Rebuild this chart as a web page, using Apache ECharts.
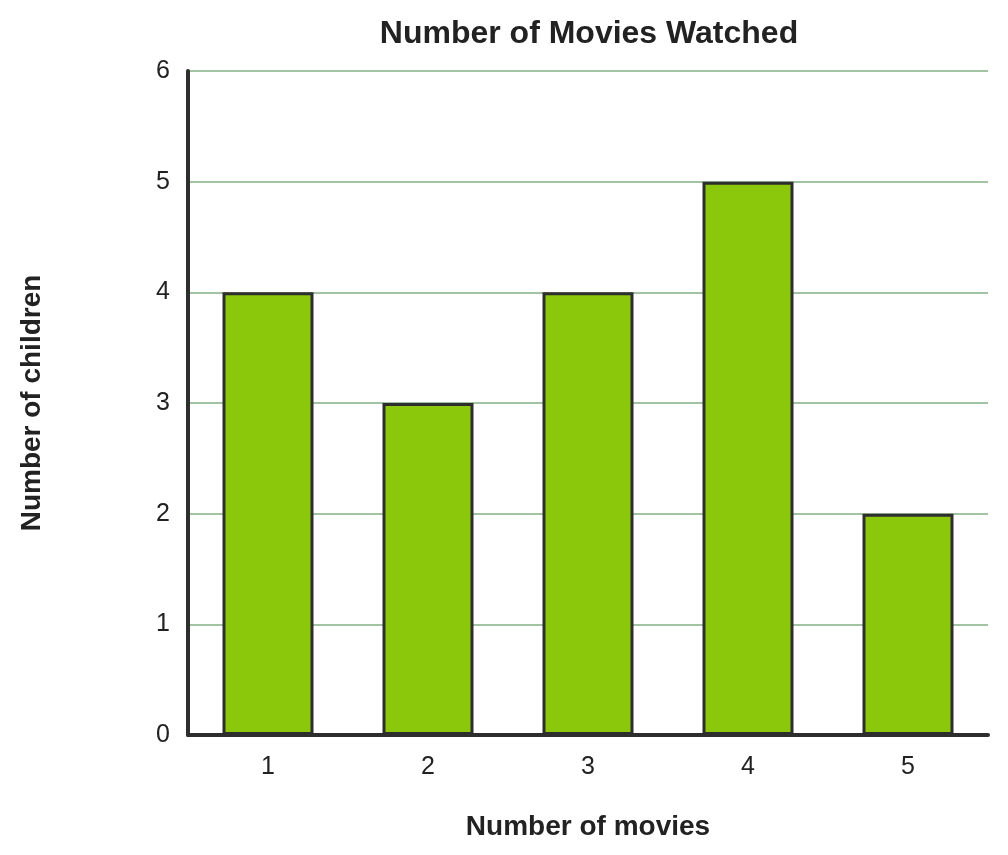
<!DOCTYPE html>
<html>
<head>
<meta charset="utf-8">
<script src="https://cdn.jsdelivr.net/npm/echarts@6/dist/echarts.min.js"></script>
<style>html,body{margin:0;padding:0;background:#fff;}#c{width:1008px;height:855px;}</style>
</head>
<body>
<div id="c"></div>
<script>
const categories = ['1', '2', '3', '4', '5'];
const children = [4, 3, 4, 5, 2];
const yTicks = [0, 1, 2, 3, 4, 5, 6];

const FONT = "'Liberation Sans', Arial, sans-serif";
const chart = echarts.init(document.getElementById('c'));
chart.setOption({
  animation: false,
  title: {
    text: 'Number of Movies Watched',
    left: 584, top: 13, textAlign: 'center',
    textStyle: {fontFamily: FONT, fontSize: 32, fontWeight: 'bold', color: '#222'}
  },
  grid: {left: 188, right: 20, top: 71, bottom: 120, containLabel: false},
  xAxis: {
    type: 'category', data: categories,
    name: 'Number of movies', nameLocation: 'middle', nameGap: 78,
    nameTextStyle: {fontFamily: FONT, fontSize: 28, fontWeight: 'bold', color: '#222'},
    axisLine: {lineStyle: {color: '#2e2e2e', width: 4}},
    axisTick: {show: false},
    axisLabel: {fontFamily: FONT, fontSize: 25, color: '#222', margin: 20}
  },
  yAxis: {
    type: 'value', min: 0, max: 6, interval: 1,
    name: 'Number of children', nameLocation: 'middle', nameGap: 142, nameRotate: 90,
    nameTextStyle: {fontFamily: FONT, fontSize: 28, fontWeight: 'bold', color: '#222'},
    axisLine: {show: true, lineStyle: {color: '#2e2e2e', width: 4}},
    axisTick: {show: false},
    axisLabel: {fontFamily: FONT, fontSize: 25, color: '#222', margin: 18,
      formatter: v => yTicks.includes(v) ? String(v) : ''},
    splitLine: {lineStyle: {color: '#a3c4a3', width: 2}}
  },
  series: [{
    type: 'bar', data: children, barWidth: 91,
    itemStyle: {color: '#8bc70a', borderColor: '#2e2e2e', borderWidth: 3}
  }]
});
</script>
</body>
</html>
